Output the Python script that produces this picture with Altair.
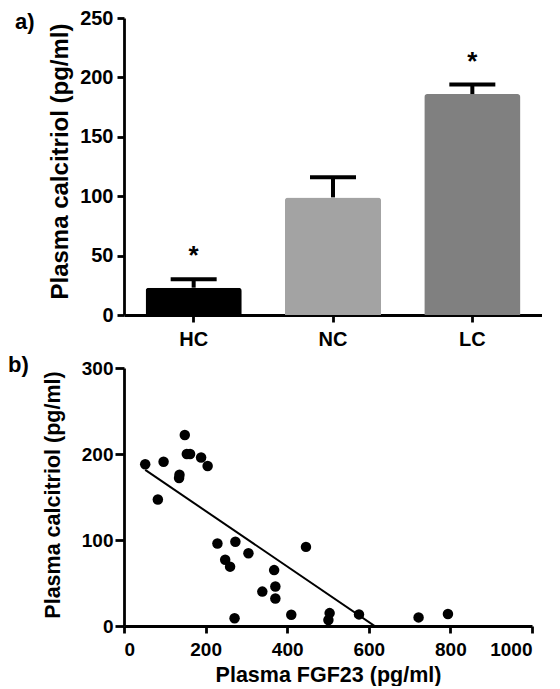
import altair as alt
import pandas as pd

# ---- data: panel a (bar chart) ----
groups = ["HC", "NC", "LC"]
means = [23, 99, 186]
upper = [30, 116, 194]
stars = ["*", "", "*"]
bar_colors = ["#000000", "#a3a3a3", "#808080"]

# ---- data: panel b (scatter) ----
fgf23 = [52, 97, 83, 136, 135, 149, 154, 162, 189, 205, 229, 273, 248, 260,
         305, 271, 339, 368, 371, 371, 410, 446, 504, 501, 576, 722, 794]
calcitriol = [188, 191, 147, 176, 172, 222, 200, 200, 196, 186, 96, 98, 77, 69,
              84.5, 9, 40, 65, 46, 32, 13, 92, 15, 7, 13.5, 10, 14]

panel_labels = ["a)", "b)"]
FONT = "Liberation Sans"

bars_df = pd.DataFrame({"group": groups, "mean": means, "upper": upper, "star": stars})
scatter_df = pd.DataFrame({"fgf23": fgf23, "calcitriol": calcitriol})

# ---------------- panel a ----------------
xa = alt.X("group:N", sort=groups, title=None,
           scale=alt.Scale(paddingInner=0.31, paddingOuter=0.155),
           axis=alt.Axis(labelAngle=0, labelFontSize=20, labelPadding=7, tickSize=7))
ya = alt.Y("mean:Q", title="Plasma calcitriol (pg/ml)",
           scale=alt.Scale(domain=[0, 250], nice=False),
           axis=alt.Axis(values=[0, 50, 100, 150, 200, 250], labelFontSize=20,
                         titleFontSize=24, tickSize=7, labelPadding=4, titlePadding=7,
                         titleY=143))

base = alt.Chart(bars_df)
bars = base.mark_bar(cornerRadiusEnd=3).encode(
    x=xa, y=ya,
    color=alt.Color("group:N", scale=alt.Scale(domain=groups, range=bar_colors), legend=None))
err = base.mark_rule(color="black", strokeWidth=4).encode(
    x=alt.X("group:N", sort=groups), y="mean:Q", y2="upper:Q")
cap = base.mark_tick(color="black", thickness=4, size=46, opacity=1).encode(
    x=alt.X("group:N", sort=groups), y="upper:Q")
star = base.mark_text(fontSize=26, fontWeight="bold", font=FONT, dy=-15,
                      baseline="alphabetic", color="black").encode(
    x=alt.X("group:N", sort=groups), y="upper:Q", text="star:N")
lab_a = alt.Chart(pd.DataFrame({"t": [panel_labels[0]]})).mark_text(
    font=FONT, fontWeight="bold", fontSize=22, align="left", baseline="alphabetic",
    color="black").encode(x=alt.value(-109), y=alt.value(11), text="t:N")

top = alt.layer(bars, err, cap, star, lab_a).properties(width=418, height=297)

# ---------------- panel b ----------------
xb = alt.X("fgf23:Q", title="Plasma FGF23 (pg/ml)",
           scale=alt.Scale(domain=[0, 1000], nice=False),
           axis=alt.Axis(values=[0, 200, 400, 600, 800, 1000], format="d", labelFontSize=19,
                         titleFontSize=21.5, tickSize=7, labelPadding=7, titlePadding=5))
yb = alt.Y("calcitriol:Q", title="Plasma calcitriol (pg/ml)",
           scale=alt.Scale(domain=[0, 300], nice=False),
           axis=alt.Axis(values=[0, 100, 200, 300], labelFontSize=19,
                         titleFontSize=21.5, tickSize=9, labelPadding=2, titlePadding=17,
                         titleY=126.5))

sbase = alt.Chart(scatter_df)
reg = sbase.transform_regression("fgf23", "calcitriol").mark_line(
    color="black", strokeWidth=2, clip=True).encode(x=xb, y=yb)
pts = sbase.mark_circle(size=110, color="black", opacity=1).encode(x=xb, y=yb)
lab_b = alt.Chart(pd.DataFrame({"t": [panel_labels[1]]})).mark_text(
    font=FONT, fontWeight="bold", fontSize=22, align="left", baseline="alphabetic",
    color="black").encode(x=alt.value(-116), y=alt.value(4), text="t:N")

bottom = alt.layer(reg, pts, lab_b).properties(width=408, height=258)

chart = alt.concat(top, bottom, columns=1, spacing=5, align="none").properties(
    padding=0
).configure_axis(
    grid=False, domainColor="black", domainWidth=2.8, tickColor="black", tickWidth=2.8,
    labelFont=FONT, labelFontWeight="bold", labelColor="black",
    titleFont=FONT, titleFontWeight="bold", titleColor="black"
).configure_view(stroke=None)

chart.save("out.html", embed_options={"renderer": "svg", "actions": False})
